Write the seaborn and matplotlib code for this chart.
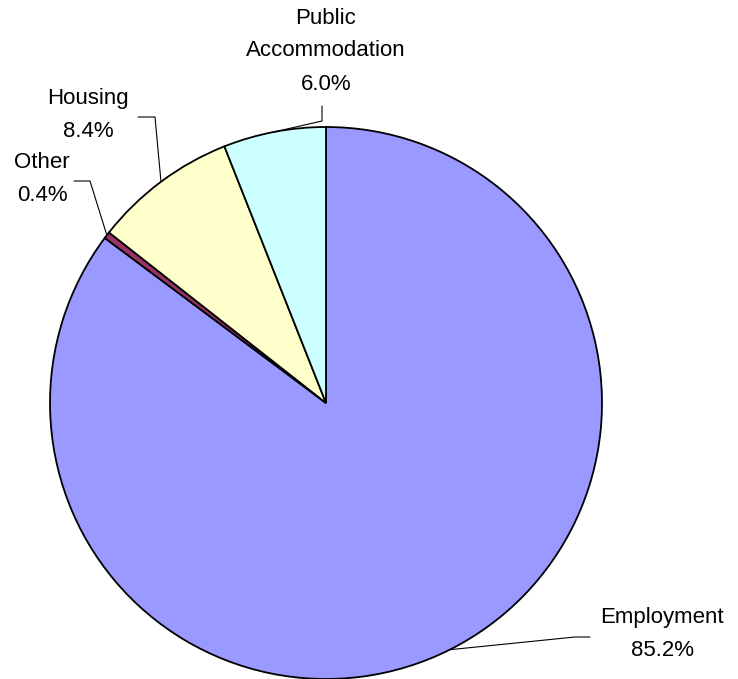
import numpy as np
import matplotlib
matplotlib.use("Agg")
import matplotlib.pyplot as plt
import seaborn as sns

# data
categories = ["Employment", "Other", "Housing", "Public\nAccommodation"]
shares = [85.2, 0.4, 8.4, 6.0]
colors = ["#9999FF", "#993366", "#FFFFCC", "#CCFFFF"]

sns.set_theme(style="white")
plt.rcParams['font.family'] = ['Liberation Sans', 'DejaVu Sans']

W, H = 738, 679
fig = plt.figure(figsize=(W / 100, H / 100), dpi=100)
ax = fig.add_axes([0, 0, 1, 1])

cx, cy, r = 326, H - 403, 276
wedges, _ = ax.pie(shares, colors=colors, startangle=90, counterclock=False,
                   center=(cx, cy), radius=r, frame=True,
                   wedgeprops=dict(edgecolor="black", linewidth=1.3))
ax.set_xlim(0, W)
ax.set_ylim(0, H)
ax.axis("off")

# label layout in pixel space (text center, elbow points)
label_pos = [(662, 634), (42, 179), (88, 115), (326, 51)]
elbows = [[(590, 637), (575, 637)],
          [(74, 181), (90, 181)],
          [(138, 117), (155, 117)],
          [(322, 106), (322, 121)]]

for w, cat, val, (tx, ty), elb in zip(wedges, categories, shares, label_pos, elbows):
    mid = np.deg2rad((w.theta1 + w.theta2) / 2)
    px = cx + r * np.cos(mid)
    py = cy + r * np.sin(mid)
    xs = [e[0] for e in elb] + [px]
    ys = [H - e[1] for e in elb] + [py]
    ax.plot(xs, ys, color="black", linewidth=0.8)
    ax.text(tx, H - ty, f"{cat}\n{val:.1f}%", ha="center", va="center",
            fontsize=16, linespacing=1.75, color="black")

fig.savefig("out.png", dpi=100)
